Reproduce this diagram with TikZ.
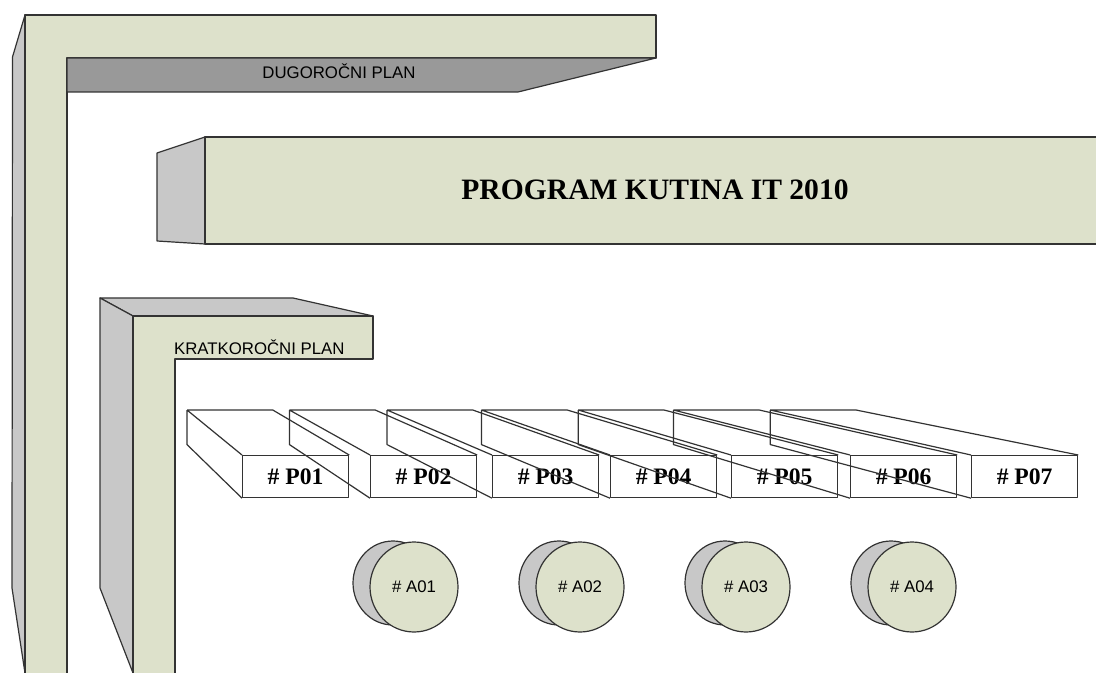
\documentclass[tikz,border=0pt]{standalone}
\usepackage{fontspec}
\setmainfont{Liberation Serif}
\setsansfont{Liberation Sans}
\usetikzlibrary{calc,shapes.geometric}
\definecolor{facegreen}{RGB}{221,225,203}
\definecolor{sidegray}{RGB}{200,200,200}
\definecolor{undergray}{RGB}{153,153,153}
\definecolor{edge}{RGB}{51,51,51}
\tikzset{font=\sffamily\fontsize{8.4}{10}\selectfont}

\begin{document}
\begin{tikzpicture}[x=0.5pt,y=-0.5pt,line join=round,
  face/.style={draw=edge,line width=0.6pt,fill=facegreen},
  side/.style={draw=edge,line width=0.6pt,fill=sidegray},
  wire/.style={draw=edge,line width=0.6pt},
  pbox/.style={wire,minimum width=53pt,minimum height=21pt,inner sep=0pt,
    font=\rmfamily\bfseries\fontsize{11.8}{14}\selectfont},
  disc/.style={face,ellipse,minimum width=44pt,minimum height=45pt,inner sep=0pt}]
  \clip (0,0) rectangle (1096,673);
  % dugorocni plan
  \draw[side] (25,15) -- (12.5,57) -- (12,588) -- (25,673) -- cycle;
  \draw[face] (25,15) -- (656,15) -- (656,58) -- (67,58) -- (67,690) -- (25,690) -- cycle;
  \draw[side,fill=undergray] (67,58) -- (656,58) -- (518,92) -- (67,92) -- cycle;
  \node (dugo) at (339,71) {DUGOROČNI PLAN};
  % program
  \draw[side] (157,153) -- (205,137) -- (205,244) -- (157,241) -- cycle;
  \draw[face] (205,137) rectangle (1110,244);
  \node[font=\rmfamily\bfseries\fontsize{14.8}{17}\selectfont] (prog) at (655,190) {PROGRAM KUTINA IT 2010};
  % kratkorocni plan
  \draw[side] (100,298) -- (293,298) -- (373,316) -- (133,316) -- cycle;
  \draw[side] (100,298) -- (133,316) -- (133,673) -- (100,588) -- cycle;
  \draw[face] (133,316) -- (373,316) -- (373,359) -- (175,359) -- (175,690) -- (133,690) -- cycle;
  \node[anchor=west] (kratko) at (167,347) {KRATKOROČNI PLAN};
  % projekti
  \coordinate (vp) at (-33,230);
  \foreach \i/\x in {1/242,2/370,3/492,4/610,5/731,6/850,7/971} {
    \node[pbox,anchor=north west] (p\i) at (\x,455) {\# P0\i};
    \draw[wire] ($(vp)!0.8!(p\i.north west)$) coordinate (t\i)
      -- ($(vp)!0.8!(p\i.north east)$) coordinate (r\i) -- (p\i.north east)
      (t\i) -- (p\i.north west)
      (t\i) -- ($(vp)!0.8!(p\i.south west)$) coordinate (b\i) -- (p\i.south west);
  }
  % aktivnosti
  \foreach \i/\x in {1/414,2/580,3/746,4/912} {
    \draw[side] (\x-21,583) ellipse [x radius=40,y radius=42];
    \node[disc] (a\i) at (\x,587) {\# A0\i};
  }
\end{tikzpicture}
\end{document}
